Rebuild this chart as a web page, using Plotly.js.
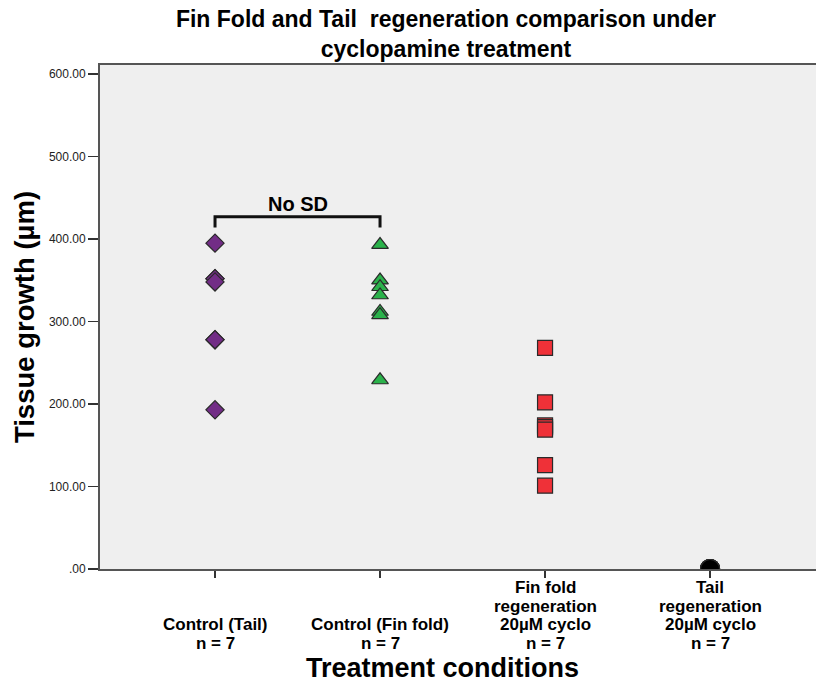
<!DOCTYPE html>
<html>
<head>
<meta charset="utf-8">
<script src="https://cdn.plot.ly/plotly-3.0.1.min.js"></script>
<style>html,body{margin:0;padding:0;background:#fff;}#chart{width:816px;height:684px;}</style>
</head>
<body>
<div id="chart"></div>
<script>
// ---- data ----
const categories = ["Control (Tail)", "Control (Fin fold)", "Fin fold regeneration 20µM cyclo", "Tail regeneration 20µM cyclo"];
const labelLines = [
  ["Control (Tail)", "n = 7"],
  ["Control (Fin fold)", "n = 7"],
  ["Fin fold", "regeneration", "20µM cyclo", "n = 7"],
  ["Tail", "regeneration", "20µM cyclo", "n = 7"]
];
const controlTail = [395, 352, 352, 348, 278, 278, 193];
const controlFin = [393, 350, 342, 332, 312, 308, 229];
const finFoldCyclo = [268, 202, 174, 172, 169, 126, 101];
const tailCyclo = [0, 0, 0, 0, 0, 0, 0];
const yTickVals = [0, 100, 200, 300, 400, 500, 600];
const yTickText = [".00", "100.00", "200.00", "300.00", "400.00", "500.00", "600.00"];
const bracketLabel = "No SD";
const bracketY = [414, 427, 427, 414];

const groups = [
  {vals: controlTail, symbol: "diamond", size: 14, color: "#722d86"},
  {vals: controlFin, symbol: "triangle-up", size: 14.5, color: "#2bb24b"},
  {vals: finFoldCyclo, symbol: "square", size: 15, color: "#ef3138"},
  {vals: tailCyclo, symbol: "circle", size: 19, color: "#000000"}
];

const traces = groups.map((g, i) => ({
  type: "scatter",
  mode: "markers",
  x: g.vals.map(() => categories[i]),
  y: g.vals,
  marker: {symbol: g.symbol, size: g.size, color: g.color, line: {color: "#2a2a2a", width: 1.2}},
  cliponaxis: true,
  showlegend: false,
  hoverinfo: "y"
}));

// bracket between first two groups
traces.push({
  type: "scatter", mode: "lines",
  x: [categories[0], categories[0], categories[1], categories[1]],
  y: bracketY,
  line: {color: "#111", width: 3},
  showlegend: false, hoverinfo: "skip"
});

const lblFont = {family: "Liberation Sans, Arial", size: 17, color: "#000"};
const annotations = [];
labelLines.forEach((lines, i) => {
  const n = lines.length;
  lines.forEach((t, k) => {
    const fromBottom = n - 1 - k;
    const center = 643 - 18.5 * fromBottom;
    annotations.push({
      text: "<b>" + t + "</b>", x: i, xref: "x", y: 0, yref: "paper",
      yanchor: "middle", xanchor: "center", yshift: 569 - center,
      showarrow: false, font: lblFont
    });
  });
});
annotations.push({
  text: "<b>Treatment conditions</b>", x: (442 - 100) / 716, xref: "paper", y: 0, yref: "paper",
  yanchor: "middle", xanchor: "center", yshift: 569 - 668, showarrow: false,
  font: {family: "Liberation Sans, Arial", size: 27, color: "#000"}
});
annotations.push({
  text: "<b>" + bracketLabel + "</b>", x: 0.5, xref: "x", y: bracketY[1], yref: "y",
  yanchor: "bottom", xanchor: "center", yshift: 0, showarrow: false,
  font: {family: "Liberation Sans, Arial", size: 20, color: "#000"}
});

const layout = {
  width: 816, height: 684,
  margin: {l: 100, r: 0, t: 65, b: 115},
  paper_bgcolor: "#ffffff",
  plot_bgcolor: "#efefef",
  title: {
    text: "<b>Fin Fold and Tail  regeneration comparison under<br>cyclopamine treatment</b>",
    font: {family: "Liberation Sans, Arial", size: 23, color: "#000"},
    x: 446 / 816, xref: "container", xanchor: "center",
    y: 1 - 27 / 684, yref: "container", yanchor: "top"
  },
  xaxis: {
    type: "category",
    categoryorder: "array", categoryarray: categories,
    range: [-0.697, 3.642],
    showticklabels: false,
    ticks: "outside", ticklen: 7, tickwidth: 1.5, tickcolor: "#333",
    showline: true, linecolor: "#555", linewidth: 2, mirror: true,
    showgrid: false, zeroline: false, fixedrange: true
  },
  yaxis: {
    range: [0, 611],
    tickvals: yTickVals, ticktext: yTickText,
    ticks: "outside", ticklen: 10, tickwidth: 1.5, tickcolor: "#333",
    tickfont: {family: "Liberation Sans, Arial", size: 12, color: "#222"},
    showline: true, linecolor: "#555", linewidth: 2,
    showgrid: false, zeroline: false,
    title: {text: "<b>Tissue growth (µm)</b>", standoff: 6,
      font: {family: "Liberation Sans, Arial", size: 27.5, color: "#000"}},
    fixedrange: true
  },
  annotations: annotations
};

Plotly.newPlot("chart", traces, layout, {displayModeBar: false, staticPlot: true});
</script>
</body>
</html>
